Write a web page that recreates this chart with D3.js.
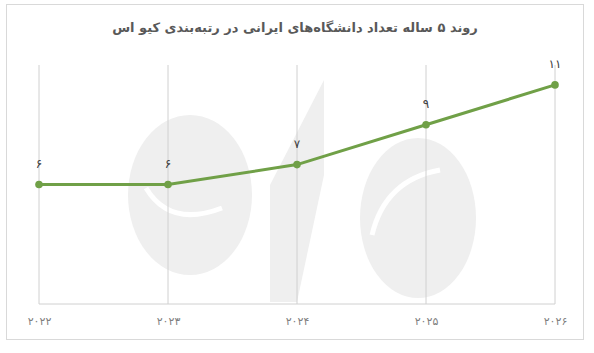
<!DOCTYPE html>
<html><head><meta charset="utf-8">
<script src="https://cdn.jsdelivr.net/npm/d3@7"></script>
<style>body{margin:0;background:#fff}svg{display:block}</style>
</head><body>
<script>
const titleText = "روند ۵ ساله تعداد دانشگاه‌های ایرانی در رتبه‌بندی کیو اس";
const categories = ["۲۰۲۲","۲۰۲۳","۲۰۲۴","۲۰۲۵","۲۰۲۶"];
const values = [6, 6, 7, 9, 11];
const valueLabels = ["۶","۶","۷","۹","۱۱"];

const W = 594, H = 353;
const m = {left: 39, right: 39, top: 65, bottom: 49};
const svg = d3.select("body").append("svg").attr("width", W).attr("height", H);
const font = "'DejaVu Sans', sans-serif";

svg.append("rect").attr("x", 6.5).attr("y", 4.5).attr("width", 577).attr("height", 335)
  .attr("fill", "#fff").attr("stroke", "#d9d9d9");

// faint watermark (decorative logo)
const wm = svg.append("g").attr("fill", "#efefef");
wm.append("ellipse").attr("cx", 190).attr("cy", 195).attr("rx", 62).attr("ry", 80);
wm.append("path").attr("d", "M270,302 L270,185 L324,80 L324,175 L297,302 Z");
wm.append("ellipse").attr("cx", 418).attr("cy", 218).attr("rx", 58).attr("ry", 80);
const sw = svg.append("g").attr("fill", "none").attr("stroke", "#fff").attr("stroke-width", 5);
sw.append("path").attr("d", "M146,188 Q170,228 222,208");
sw.append("path").attr("d", "M372,235 Q385,180 440,170");

const x = d3.scalePoint().domain(categories).range([m.left, W - m.right]);
const y = d3.scaleLinear().domain([0, 12]).range([H - m.bottom, m.top]);

// vertical gridlines
svg.append("g").selectAll("line").data(categories).join("line")
  .attr("x1", d => x(d)).attr("x2", d => x(d))
  .attr("y1", y(12)).attr("y2", y(0))
  .attr("stroke", "#d0d0d0").attr("stroke-width", 1);
svg.append("line").attr("x1", x(categories[0])).attr("x2", x(categories[4]))
  .attr("y1", y(0)).attr("y2", y(0)).attr("stroke", "#d0d0d0");

// x axis labels
const xa = svg.append("g").attr("transform", `translate(0,${y(0)})`)
  .call(d3.axisBottom(x).tickSize(0).tickPadding(13));
xa.select(".domain").remove();
xa.selectAll("text").attr("fill", "#7f7f7f").style("font-family", font).style("font-size", "11px");

// title
svg.append("text").attr("x", 295).attr("y", 32).attr("text-anchor", "middle")
  .attr("fill", "#595959").style("font-family", font).style("font-size", "13px").style("font-weight", "bold")
  .text(titleText);

const data = categories.map((c, i) => ({c, v: values[i], l: valueLabels[i]}));
svg.append("path").datum(data)
  .attr("fill", "none").attr("stroke", "#70a047").attr("stroke-width", 3)
  .attr("d", d3.line().x(d => x(d.c)).y(d => y(d.v)));
svg.append("g").selectAll("circle").data(data).join("circle")
  .attr("cx", d => x(d.c)).attr("cy", d => y(d.v)).attr("r", 3.8).attr("fill", "#70a047");
svg.append("g").selectAll("text").data(data).join("text")
  .attr("x", d => x(d.c)).attr("y", d => y(d.v) - 17).attr("text-anchor", "middle")
  .attr("fill", "#404040").style("font-family", font).style("font-size", "12px")
  .text(d => d.l);
</script>
</body></html>
